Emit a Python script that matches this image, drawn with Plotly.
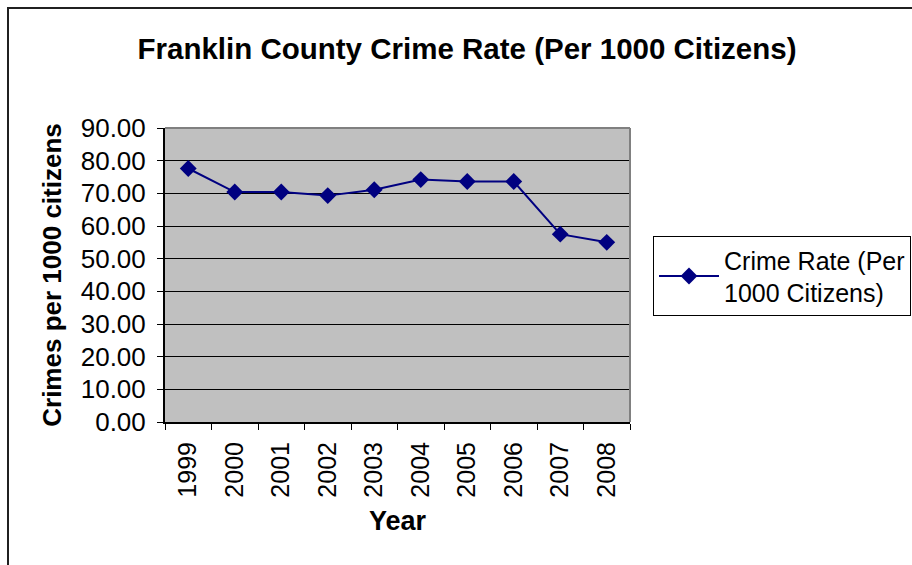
import plotly.graph_objects as go

years = ["1999", "2000", "2001", "2002", "2003", "2004", "2005", "2006", "2007", "2008"]
crime_rate = [77.6, 70.4, 70.4, 69.3, 71.1, 74.2, 73.6, 73.6, 57.5, 55.0]
y_ticks = [0, 10, 20, 30, 40, 50, 60, 70, 80, 90]

W, H = 912, 565
L, R, T, B = 165, 630, 128, 422

fig = go.Figure()
fig.add_trace(go.Scatter(
    x=years, y=crime_rate, mode="lines+markers",
    name="Crime Rate (Per<br>1000 Citizens)",
    line=dict(color="#000080", width=2),
    marker=dict(symbol="diamond", size=13, color="#000080"),
))

font = "Liberation Sans, Arial, sans-serif"

def px_x(p):
    return (p - L) / (R - L)

def px_y(p):
    return (B - p) / (B - T)

fig.update_layout(
    width=W, height=H,
    margin=dict(l=L, r=W - R, t=T, b=H - B, pad=0, autoexpand=False),
    paper_bgcolor="white",
    plot_bgcolor="#C0C0C0",
    font=dict(family=font, size=26, color="black"),
    title=dict(
        text="<b>Franklin County Crime Rate (Per 1000 Citizens)</b>",
        x=467 / W, xanchor="center", y=1 - 49 / H, yanchor="middle",
        font=dict(size=29.5),
    ),
    showlegend=True,
    legend=dict(
        x=px_x(653), y=px_y(236), xanchor="left", yanchor="top",
        bordercolor="black", borderwidth=1, bgcolor="white",
        font=dict(size=25), itemwidth=60,
    ),
    xaxis=dict(
        type="category", range=[-0.5, 9.5],
        tickangle=-90, tickson="boundaries", ticks="outside", ticklen=6,
        tickcolor="black", showline=True, linecolor="black", linewidth=2,
        showgrid=False, mirror=False, ticklabelstandoff=8,
        tickfont=dict(size=25),
        title=dict(text="<b>Year</b>", standoff=14, font=dict(size=27)),
    ),
    yaxis=dict(
        range=[0, 90], tickvals=y_ticks, tickformat=".2f",
        ticks="outside", ticklen=6, tickcolor="black",
        showline=True, linecolor="black", linewidth=2,
        showgrid=True, gridcolor="black", gridwidth=1,
        zeroline=False, ticklabelstandoff=6,
        title=dict(text="<b>Crimes per 1000 citizens</b>", standoff=12, font=dict(size=26)),
    ),
    shapes=[
        # gray frame on top and right of the plot area
        dict(type="line", xref="paper", yref="paper", x0=0, x1=1, y0=1, y1=1,
             line=dict(color="#808080", width=2)),
        dict(type="line", xref="paper", yref="paper", x0=1, x1=1, y0=0, y1=1,
             line=dict(color="#808080", width=2)),
        # outer chart border
        dict(type="rect", xref="paper", yref="paper",
             x0=px_x(8), x1=px_x(W + 10), y0=px_y(H + 10), y1=px_y(8),
             line=dict(color="#202020", width=2), layer="below"),
    ],
)

fig.write_html("out.html")
